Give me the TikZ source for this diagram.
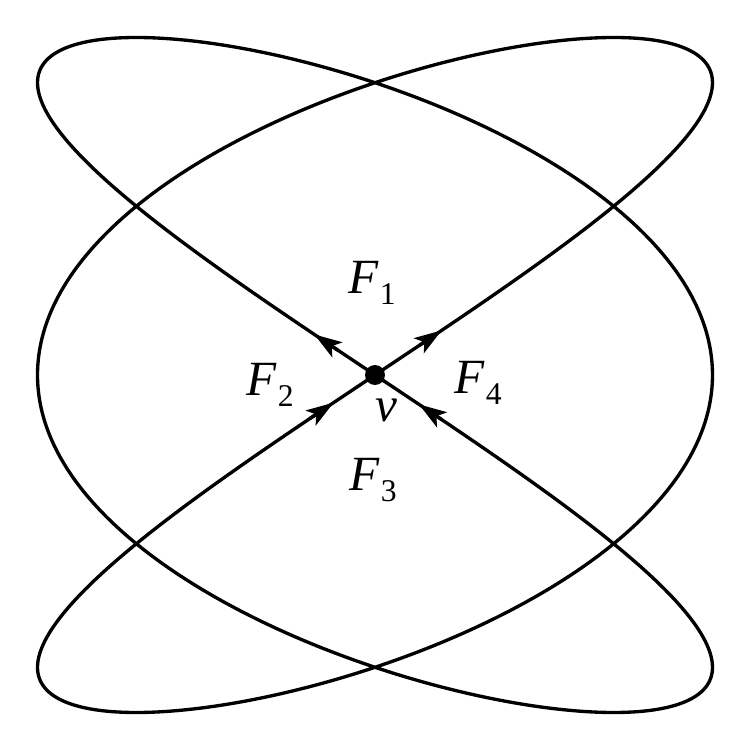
\documentclass[tikz,border=0pt]{standalone}
\usepackage{fontspec}
\setmainfont{Liberation Serif}
\usetikzlibrary{arrows.meta}
\newcommand\flab[2]{\textit{#1}\kern0.5pt\raisebox{-0.5ex}{\fontsize{18}{18}\selectfont #2}}
\tikzset{
  curve/.style={line width=1.9pt, line join=round},
  tipline/.style={line width=1.9pt, -{Stealth[length=0.55cm, width=0.36cm, inset=0.13cm]}},
  lab/.style={font=\fontsize{28}{28}\selectfont, inner sep=0pt},
}
\begin{document}
\begin{tikzpicture}
\useasboundingbox (0,0) rectangle (15,15);
\draw[curve] plot[domain=0:360, samples=721, smooth] ({7.5+6.75*sin(3*\x)},{7.5+6.75*sin(2*\x)}) -- cycle;
\node[circle, fill=black, inner sep=0pt, minimum size=0.4cm] (v) at (7.5,7.5) {};
\coordinate (urT) at ({7.5+6.75*sin(7.5)},{7.5+6.75*sin(5.0)});
\coordinate (urH) at ({7.5+6.75*sin(11.4)},{7.5+6.75*sin(7.6)});
\coordinate (ulT) at ({7.5+6.75*sin(546.3)},{7.5+6.75*sin(364.2)});
\coordinate (ulH) at ({7.5+6.75*sin(550.35)},{7.5+6.75*sin(366.9)});
\coordinate (llT) at ({7.5+6.75*sin(1068.9)},{7.5+6.75*sin(712.6)});
\coordinate (llH) at ({7.5+6.75*sin(1072.95)},{7.5+6.75*sin(715.3)});
\coordinate (lrT) at ({7.5+6.75*sin(528.6)},{7.5+6.75*sin(352.4)});
\coordinate (lrH) at ({7.5+6.75*sin(532.5)},{7.5+6.75*sin(355.0)});
\draw[tipline] (urT) -- (urH);
\draw[tipline] (ulT) -- (ulH);
\draw[tipline] (llT) -- (llH);
\draw[tipline] (lrT) -- (lrH);
\node[lab] (f1) at (7.44,9.34) {\flab{F}{1}};
\node[lab] (f2) at (5.4,7.3) {\flab{F}{2}};
\node[lab] (f4) at (9.56,7.34) {\flab{F}{4}};
\node[lab] (f3) at (7.46,5.4) {\flab{F}{3}};
\node[lab] (vl) at (7.72,6.8) {\textit{v}};
\end{tikzpicture}
\end{document}
